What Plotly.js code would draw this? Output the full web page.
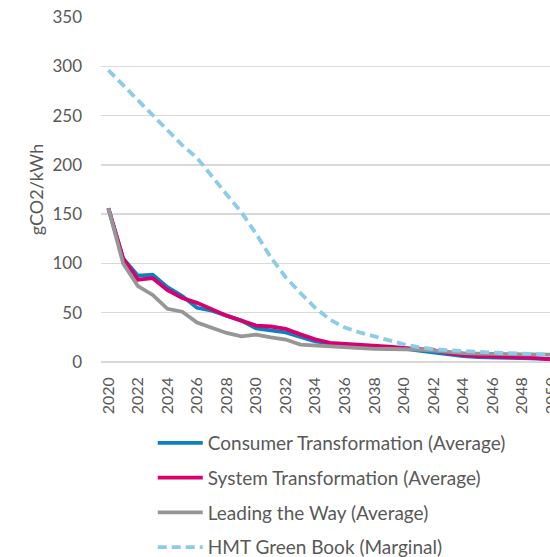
<!DOCTYPE html>
<html>
<head>
<meta charset="utf-8">
<script src="https://cdn.plot.ly/plotly-3.0.1.min.js"></script>
<style>
  html, body { margin: 0; padding: 0; overflow: hidden; background: #fff; width: 550px; height: 557px; }
  #chart { width: 600px; height: 600px; }
</style>
</head>
<body>
<div id="chart"></div>
<script>
const years = [2020,2021,2022,2023,2024,2025,2026,2027,2028,2029,2030,2031,2032,2033,2034,2035,
               2036,2037,2038,2039,2040,2041,2042,2043,2044,2045,2046,2047,2048,2049,2050];

const consumerTransformation = [156,105,87.5,88.5,76,67,55,52,47,42,34,32,30,25.5,21,18.7,
                                17,16,15.5,14.5,13.5,11.5,9.5,7.5,6,5,4.3,4.2,4,3.5,3];
const systemTransformation   = [156,105,83.5,85,73,65,60,53,47,42,37,36,33.6,28,23,19.5,
                                18.7,17.5,16.7,15.5,14.3,13.5,12,9,7,6,5.5,5.2,5,4,2.5];
const leadingTheWay          = [156,100,77,68,54,51,40,34.6,29.5,26,27.8,25,22.8,17.7,16.7,16,
                                15.4,14.5,13.4,13.2,13,12.5,11.5,10,9,8.5,8.2,8,8,7.8,7.5];
const hmtGreenBook           = [296,281,265,250,235,220,207,188,170,152,130,106,86,70,55,43,
                               35,30,26,22,18,15,13,12,11,10,9.5,9,8.5,8,7.5];

const seriesNames = ["Consumer Transformation (Average)", "System Transformation (Average)",
                     "Leading the Way (Average)", "HMT Green Book (Marginal)"];
const seriesValues = [consumerTransformation, systemTransformation, leadingTheWay, hmtGreenBook];
const seriesColors = ["#0e7fc0", "#d6016f", "#969696", "#8ccbea"];
const seriesDash = ["solid", "solid", "solid", "9px,5px"];

const yTickValues = [0,50,100,150,200,250,300,350];

const textColor = "#595959";
const fontFamily = "Lato, 'Open Sans', sans-serif";

const traces = seriesNames.map((name, i) => ({
  type: "scatter",
  mode: "lines",
  name: name,
  x: years,
  y: seriesValues[i],
  legendgroup: "g" + i,
  line: { color: seriesColors[i], width: 3.8, dash: seriesDash[i], shape: "linear" },
  hoverinfo: "x+y+name"
}));

const layout = {
  width: 600,
  height: 600,
  margin: { l: 101, r: 41, t: 17, b: 237.5, pad: 0 },
  paper_bgcolor: "#ffffff",
  plot_bgcolor: "#ffffff",
  font: { family: fontFamily, color: textColor, size: 17 },
  showlegend: true,
  legend: {
    orientation: "v",
    x: 0.113, xanchor: "left",
    y: -0.18, yanchor: "top",
    font: { family: fontFamily, size: 19, color: textColor },
    tracegroupgap: 7,
    itemwidth: 45,
    bgcolor: "rgba(0,0,0,0)"
  },
  xaxis: {
    type: "linear",
    range: [2019.5, 2050.5],
    tick0: 2020,
    dtick: 2,
    tickmode: "linear",
    tickangle: -90,
    showgrid: false,
    zeroline: false,
    showline: false,
    ticks: "",
    ticklabelstandoff: 11,
    tickfont: { family: fontFamily, size: 16, color: textColor },
    fixedrange: true
  },
  yaxis: {
    range: [0, 350],
    tickmode: "array",
    tickvals: yTickValues,
    ticktext: yTickValues.map(String),
    showgrid: true,
    gridcolor: "#d9d9d9",
    gridwidth: 1.5,
    zeroline: true,
    zerolinecolor: "#d9d9d9",
    zerolinewidth: 1.5,
    showline: false,
    ticks: "",
    ticklabelstandoff: 18,
    tickfont: { family: fontFamily, size: 17, color: textColor },
    title: { text: "gCO2/kWh", font: { family: fontFamily, size: 18, color: textColor }, standoff: 4 },
    fixedrange: true
  }
};

Plotly.newPlot("chart", traces, layout, { displayModeBar: false, staticPlot: true });
</script>
</body>
</html>
